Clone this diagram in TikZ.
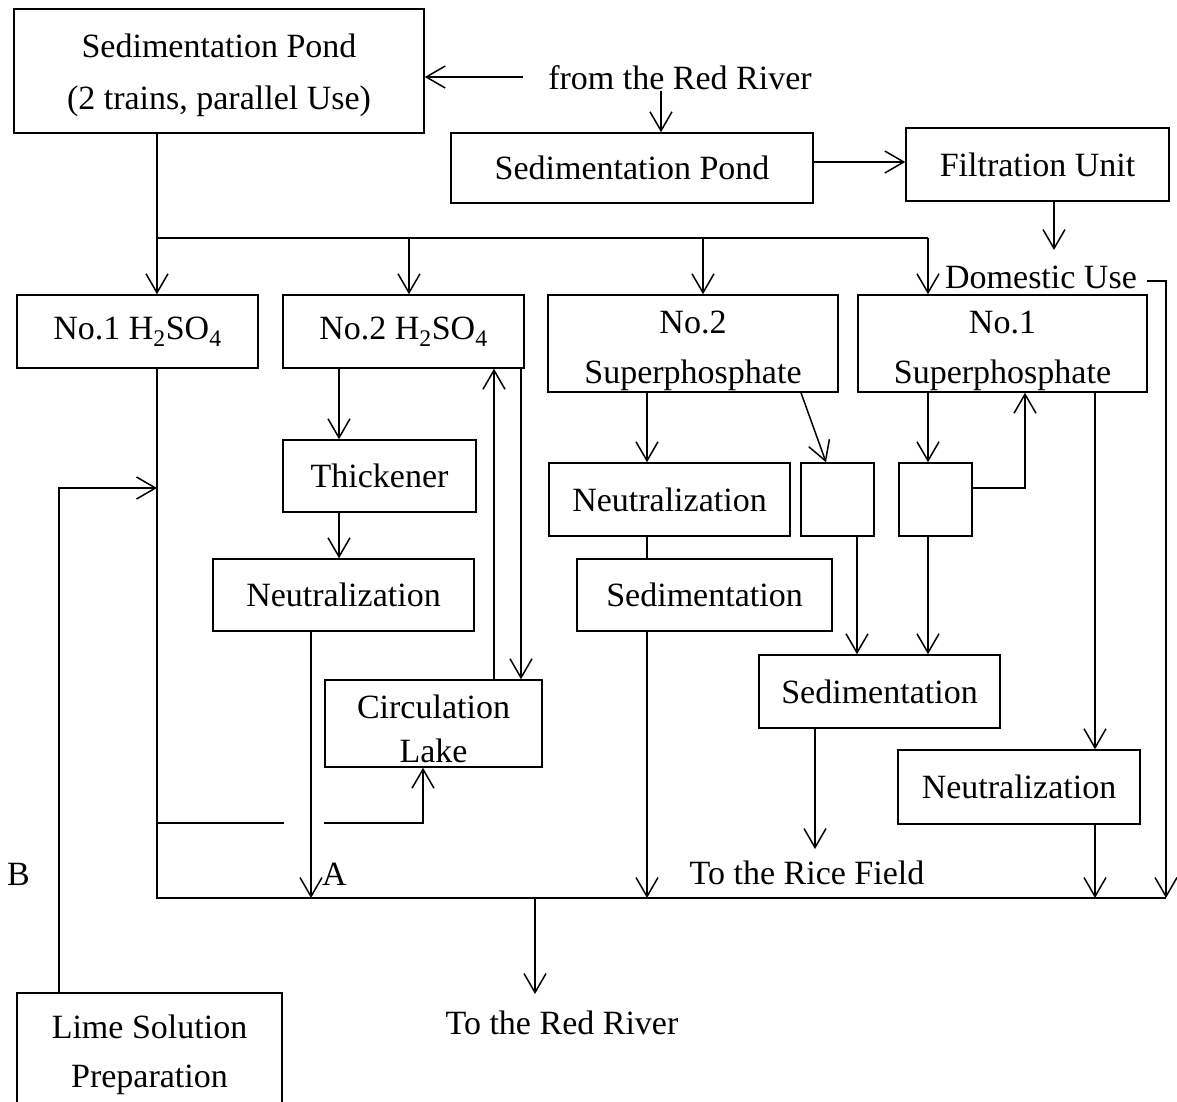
\documentclass[tikz,border=0pt]{standalone}
\usepackage{fontspec}
\setmainfont{Liberation Serif}
\usetikzlibrary{arrows.meta}
% strut that lowers a two-line label inside its box
\newcommand{\lowerby}[1]{\rule{0pt}{#1}}
\begin{document}
\begin{tikzpicture}[x=1pt,y=-1pt,
  line width=1.5pt,
  txt/.style={font=\fontsize{34}{52}\selectfont},
  box/.style={draw, rectangle, inner sep=0pt, align=center, txt},
  lbl/.style={inner sep=0pt, align=center, txt},
  arr/.style={-{Straight Barb[length=19pt,width=22pt,line width=1.5pt]}},
]
\useasboundingbox[fill=white] (0,0) rectangle (1177,1101);

% process units
\node[box, minimum width=410pt, minimum height=124pt] (sp1) at (219,71) {\lowerby{33pt}Sedimentation Pond\\(2 trains, parallel Use)};
\node[box, minimum width=362pt, minimum height=70pt] (sp2) at (632,168) {Sedimentation Pond};
\node[box, minimum width=263pt, minimum height=73pt] (filt) at (1037.5,164.5) {Filtration Unit};
\node[box, minimum width=241pt, minimum height=73pt] (h1) at (137.5,331.5) {No.1 H\textsubscript{2}SO\textsubscript{4}};
\node[box, minimum width=241pt, minimum height=73pt] (h2) at (403.5,331.5) {No.2 H\textsubscript{2}SO\textsubscript{4}};
\node[box, minimum width=290pt, minimum height=97pt, font=\fontsize{34}{50}\selectfont] (s2) at (693,343.5) {\lowerby{37pt}No.2\\Superphosphate};
\node[box, minimum width=289pt, minimum height=97pt, font=\fontsize{34}{50}\selectfont] (s1) at (1002.5,343.5) {\lowerby{37pt}No.1\\Superphosphate};
\node[box, minimum width=193pt, minimum height=72pt] (thick) at (379.5,476) {Thickener};
\node[box, minimum width=261pt, minimum height=72pt] (neuA) at (343.5,595) {Neutralization};
\node[box, minimum width=217pt, minimum height=87pt, font=\fontsize{34}{44}\selectfont] (circ) at (433.5,723.5) {\lowerby{35pt}Circulation\\Lake};
\node[box, minimum width=241pt, minimum height=73pt] (neuB) at (669.5,499.5) {Neutralization};
\node[box, minimum width=255pt, minimum height=72pt] (sedB) at (704.5,595) {Sedimentation};
\node[box, minimum width=73pt, minimum height=73pt] (sm1) at (837.5,499.5) {};
\node[box, minimum width=73pt, minimum height=73pt] (sm2) at (935.5,499.5) {};
\node[box, minimum width=241pt, minimum height=73pt] (sedC) at (879.5,691.5) {Sedimentation};
\node[box, minimum width=242pt, minimum height=74pt] (neuC) at (1019,787) {Neutralization};
\node[box, minimum width=265pt, minimum height=117pt, font=\fontsize{34}{49}\selectfont] (lime) at (149.5,1051.5) {\lowerby{31pt}Lime Solution\\Preparation};

% free labels
\node[lbl] (river) at (680,78) {from the Red River};
\node[lbl] (dom) at (1041,277) {Domestic Use};
\node[lbl] (rice) at (807,873) {To the Rice Field};
\node[lbl] (red) at (562,1023) {To the Red River};
\node[lbl] (la) at (334.5,874) {A};
\node[lbl] (lb) at (18.5,874) {B};

% lanes and levels
\coordinate (L1) at (157,0);
\coordinate (L2) at (409,0);
\coordinate (L3) at (703,0);
\coordinate (L4) at (928,0);
\coordinate (xR) at (1166,0);
\coordinate (yBranch) at (0,238);
\coordinate (bus) at (0,898);
\coordinate (yF) at (0,162);
\coordinate (ySplit) at (0,823);
\coordinate (yB) at (0,488);
\coordinate (xB) at (59,0);
\coordinate (xC) at (423,0);
\coordinate (xIn) at (661,0);
\coordinate (xFd) at (1054,0);
\coordinate (domIn) at (1054,250);
\coordinate (domR) at (1147,281);
\coordinate (splitEnd) at (284,823);
\coordinate (redIn) at (535,994);
\coordinate (riceIn) at (815,849);

% raw water intake
\draw[arr] (523,77) coordinate (intake) -- (sp1.east |- intake);
\draw[arr] (river.south -| xIn) -- (sp2.north -| xIn);
\draw[arr] (sp2.east |- yF) -- (filt.west |- yF);
\draw[arr] (filt.south -| xFd) -- (domIn);
\draw[arr] (domR) -- (xR |- domR) -- (xR |- bus);

% distribution to the plants
\draw[arr] (sp1.south -| L1) -- (h1.north -| L1);
\draw (L1 |- yBranch) -- (L4 |- yBranch);
\draw[arr] (L2 |- yBranch) -- (h2.north -| L2);
\draw[arr] (L3 |- yBranch) -- (s2.north -| L3);
\draw[arr] (L4 |- yBranch) -- (s1.north -| L4);

% No.1 H2SO4 line and collecting main
\draw (h1.south -| L1) -- (L1 |- bus) -- (xR |- bus);
\draw (L1 |- ySplit) -- (splitEnd);
\draw[arr] (circ.south west |- ySplit) -| (circ.south -| xC);
\draw[arr] (lime.north -| xB) |- (L1 |- yB);

% No.2 H2SO4 line
\draw[arr] (h2.south -| 339,0) -- (thick.north -| 339,0);
\draw[arr] (thick.south -| 339,0) -- (neuA.north -| 339,0);
\draw[arr] (neuA.south -| 311,0) -- (311,898);
\draw[arr] (circ.north -| 494,0) -- (h2.south -| 494,0);
\draw[arr] (h2.south -| 521,0) -- (circ.north -| 521,0);

% No.2 superphosphate line
\draw[arr] (s2.south -| 647,0) -- (neuB.north -| 647,0);
\draw (neuB.south -| 647,0) -- (sedB.north -| 647,0);
\draw[arr] (sedB.south -| 647,0) -- (647,898);
\draw[arr] (s2.south -| 801,0) -- (sm1.north -| 826,0);

% No.1 superphosphate line
\draw[arr] (s1.south -| L4) -- (sm2.north -| L4);
\draw[arr] (sm2.east |- yB) -| (s1.south -| 1025,0);
\draw[arr] (sm1.south -| 857,0) -- (sedC.north -| 857,0);
\draw[arr] (sm2.south -| L4) -- (sedC.north -| L4);
\draw[arr] (sedC.south -| riceIn) -- (riceIn);
\draw[arr] (s1.south -| 1095,0) -- (neuC.north -| 1095,0);
\draw[arr] (neuC.south -| 1095,0) -- (1095,898);

% discharge
\draw[arr] (redIn |- bus) -- (redIn);
\end{tikzpicture}
\end{document}
